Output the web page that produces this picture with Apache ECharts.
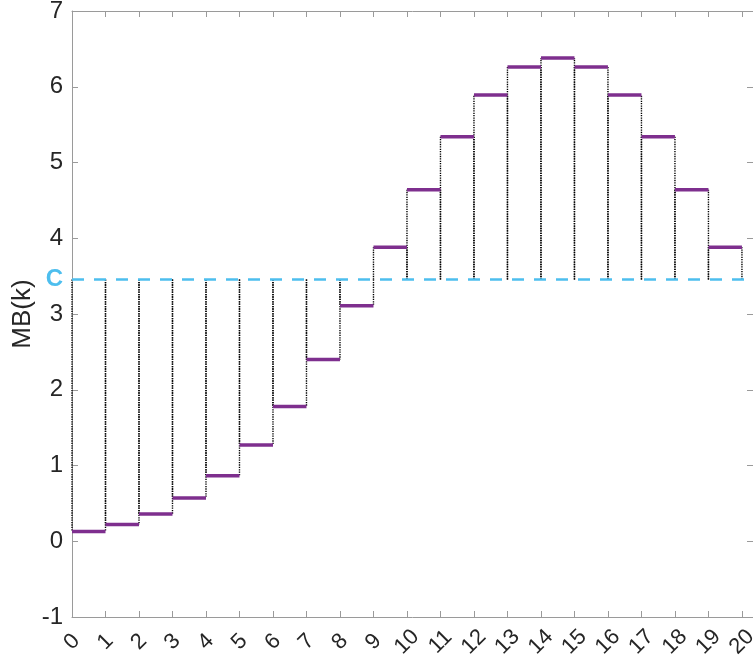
<!DOCTYPE html>
<html>
<head>
<meta charset="utf-8">
<script src="https://cdn.jsdelivr.net/npm/echarts@6/dist/echarts.min.js"></script>
<style>
  html, body { margin: 0; padding: 0; background: #fff; }
  #main { width: 753px; height: 663px; }
</style>
</head>
<body>
<div id="main"></div>
<script>
  // step index k and value MB(k), the level C
  var kValues = [0, 1, 2, 3, 4, 5, 6, 7, 8, 9, 10, 11, 12, 13, 14, 15, 16, 17, 18, 19];
  var mbValues = [0.13, 0.22, 0.36, 0.57, 0.865, 1.27, 1.78, 2.40, 3.11, 3.88,
    4.64, 5.34, 5.89, 6.26, 6.38, 6.26, 5.89, 5.34, 4.64, 3.88];
  var cLevel = 3.455;
  var yTicks = [-1, 0, 1, 2, 3, 4, 5, 6, 7];

  var purple = '#7E2F8E';
  var lightBlue = '#4DBEEE';
  var axisGray = '#9a9a9a';
  var textColor = '#262626';
  var fontFamily = 'Liberation Sans, Arial, Helvetica, sans-serif';

  var stepData = kValues.map(function (k, i) {
    return [k, mbValues[i]];
  });

  function renderStep(params, api) {
    var k = api.value(0);
    var v = api.value(1);
    var pLeftTop = api.coord([k, v]);
    var pRightBase = api.coord([k + 1, cLevel]);
    var pLeftBase = api.coord([k, cLevel]);
    var pRightTop = api.coord([k + 1, v]);
    var dotted = {stroke: '#000', lineWidth: 1.4, lineDash: [1.3, 1.1]};
    return {
      type: 'group',
      children: [
        {
          type: 'line',
          shape: {x1: pLeftBase[0], y1: pLeftBase[1], x2: pLeftTop[0], y2: pLeftTop[1]},
          style: dotted
        },
        {
          type: 'line',
          shape: {x1: pRightBase[0], y1: pRightBase[1], x2: pRightTop[0], y2: pRightTop[1]},
          style: dotted
        },
        {
          type: 'line',
          z2: 10,
          shape: {x1: pLeftTop[0], y1: pLeftTop[1], x2: pRightTop[0], y2: pRightTop[1]},
          style: {stroke: purple, lineWidth: 3.5}
        }
      ]
    };
  }

  var xMax = 20.33;

  var option = {
    backgroundColor: '#fff',
    animation: false,
    grid: {
      left: 72,
      right: 0,
      top: 11,
      bottom: 46,
      containLabel: false,
      outerBoundsMode: 'none'
    },
    xAxis: [
      {
        type: 'value',
        min: 0,
        max: xMax,
        interval: 1,
        axisLine: {show: true, onZero: false, lineStyle: {color: axisGray, width: 1}},
        axisTick: {show: true, inside: true, length: 6, lineStyle: {color: axisGray}},
        splitLine: {show: false},
        axisLabel: {
          rotate: 45,
          margin: 25,
          align: 'center',
          verticalAlign: 'middle',
          color: textColor,
          fontSize: 22,
          fontFamily: fontFamily,
          showMaxLabel: false,
          hideOverlap: false,
          formatter: function (val) {
            return Math.abs(val - Math.round(val)) < 1e-6 ? String(Math.round(val)) : '';
          }
        }
      },
      {
        type: 'value',
        position: 'top',
        min: 0,
        max: xMax,
        interval: 1,
        axisLine: {show: true, onZero: false, lineStyle: {color: axisGray, width: 1}},
        axisTick: {show: true, inside: true, length: 6, lineStyle: {color: axisGray}},
        axisLabel: {show: false},
        splitLine: {show: false}
      }
    ],
    yAxis: [
      {
        type: 'value',
        min: yTicks[0],
        max: yTicks[yTicks.length - 1],
        interval: 1,
        name: 'MB(k)',
        nameLocation: 'middle',
        nameGap: 36,
        nameMoveOverlap: false,
        nameTextStyle: {color: textColor, fontSize: 26, fontFamily: fontFamily},
        axisLine: {show: true, onZero: false, lineStyle: {color: axisGray, width: 1}},
        axisTick: {show: true, inside: true, length: 6, lineStyle: {color: axisGray}},
        splitLine: {show: false},
        axisLabel: {
          margin: 9,
          color: textColor,
          fontSize: 24,
          fontFamily: fontFamily
        }
      },
      {
        type: 'value',
        position: 'right',
        min: yTicks[0],
        max: yTicks[yTicks.length - 1],
        interval: 1,
        axisLine: {show: true, onZero: false, lineStyle: {color: axisGray, width: 1}},
        axisTick: {show: true, inside: true, length: 6, lineStyle: {color: axisGray}},
        axisLabel: {show: false},
        splitLine: {show: false}
      }
    ],
    series: [
      {
        type: 'custom',
        xAxisIndex: 0,
        yAxisIndex: 0,
        renderItem: renderStep,
        encode: {x: 0, y: 1},
        data: stepData,
        z: 2
      },
      {
        type: 'line',
        xAxisIndex: 0,
        yAxisIndex: 0,
        data: [],
        silent: true,
        z: 5,
        markLine: {
          silent: true,
          symbol: ['none', 'none'],
          lineStyle: {color: lightBlue, type: [12, 10], width: 2.5},
          label: {
            show: true,
            position: 'start',
            formatter: 'C',
            distance: 9,
            color: lightBlue,
            fontSize: 24,
            fontWeight: 'bold',
            fontFamily: fontFamily
          },
          data: [
            [{coord: [0, cLevel]}, {coord: [xMax, cLevel]}]
          ]
        }
      }
    ]
  };

  var myChart = echarts.init(document.getElementById('main'));
  myChart.setOption(option);
</script>
</body>
</html>
